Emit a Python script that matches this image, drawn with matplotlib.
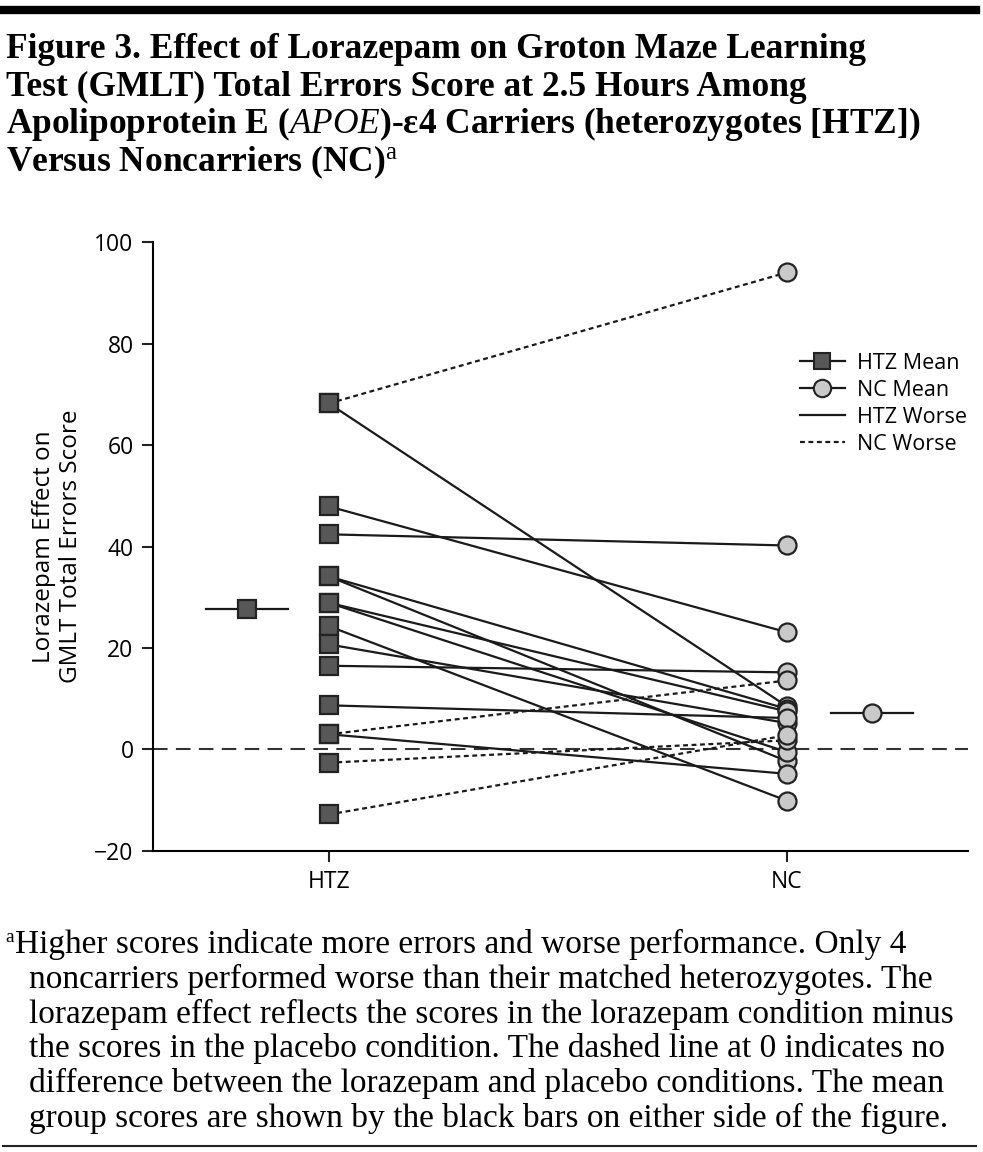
import matplotlib
matplotlib.use("Agg")
import matplotlib.pyplot as plt
from matplotlib.lines import Line2D

plt.rcParams['font.family'] = ['Open Sans', 'DejaVu Sans']
plt.rcParams['mathtext.fontset'] = 'custom'
plt.rcParams['mathtext.rm'] = 'Liberation Serif'
plt.rcParams['mathtext.it'] = 'Liberation Serif:italic'
plt.rcParams['mathtext.bf'] = 'Liberation Serif:bold'

# paired scores: each HTZ carrier with its matched noncarrier
htz_vals = [68.2, 68.2, 47.9, 42.4, 34.1, 34.1, 28.9, 28.9, 24.3, 20.7, 16.5, 8.7, 3.0, 3.0, -2.6, -12.8]
nc_vals = [94.0, 8.5, 23.1, 40.2, 8.0, -2.3, 7.5, -0.5, -10.1, 5.2, 15.2, 6.2, 13.6, -4.8, 1.8, 2.8]
htz_mean = 27.7
nc_mean = 7.2
groups = ["HTZ", "NC"]
yticks = [-20, 0, 20, 40, 60, 80, 100]

sq_face = "#575757"
ci_face = "#c9c9c9"
edge = "#222222"

fig = plt.figure(figsize=(9.83, 11.52), dpi=100)
ax = fig.add_axes([0.1556, 0.2613, 0.8291, 0.5286])

x_htz, x_nc = 1, 2
for h, n in zip(htz_vals, nc_vals):
    if n > h:
        ax.plot([x_htz, x_nc], [h, n], color="#1a1a1a", lw=1.6, ls=(0, (2.2, 1.6)), zorder=2)
    else:
        ax.plot([x_htz, x_nc], [h, n], color="#1a1a1a", lw=1.6, zorder=2)

ax.plot([x_htz] * len(htz_vals), htz_vals, ls="none", marker="s", ms=12.5,
        mfc=sq_face, mec=edge, mew=1.6, zorder=3)
ax.plot([x_nc] * len(nc_vals), nc_vals, ls="none", marker="o", ms=13,
        mfc=ci_face, mec=edge, mew=1.6, zorder=3)

# group means with bars
ax.plot([0.732, 0.911], [htz_mean, htz_mean], color="#1a1a1a", lw=1.6, zorder=2)
ax.plot([0.821], [htz_mean], marker="s", ms=12.5, mfc=sq_face, mec=edge, mew=1.6, zorder=3)
ax.plot([2.097, 2.276], [nc_mean, nc_mean], color="#1a1a1a", lw=1.6, zorder=2)
ax.plot([2.186], [nc_mean], marker="o", ms=13, mfc=ci_face, mec=edge, mew=1.6, zorder=3)

ax.axhline(0, color="#333333", lw=1.5, ls=(0, (7, 4)), zorder=1)

ax.set_xlim(0.616, 2.395)
ax.set_ylim(-20, 100)
ax.set_xticks([x_htz, x_nc])
ax.set_xticklabels(groups, fontsize=16.5)
ax.set_yticks(yticks)
ax.set_yticklabels(["\u221220"] + [str(t) for t in yticks[1:]], fontsize=16.5)
ax.spines['top'].set_visible(False)
ax.spines['right'].set_visible(False)
ax.spines['left'].set_linewidth(1.5)
ax.spines['bottom'].set_linewidth(1.5)
ax.tick_params(axis='both', direction='out', length=8, width=1.5, color="#222222", pad=6)
ax.set_ylabel("Lorazepam Effect on\nGMLT Total Errors Score", fontsize=17.5, labelpad=8,
              linespacing=1.15)

handles = [
    Line2D([], [], color="#1a1a1a", lw=1.6, marker="s", ms=12, mfc=sq_face, mec=edge, mew=1.5),
    Line2D([], [], color="#1a1a1a", lw=1.6, marker="o", ms=12.5, mfc=ci_face, mec=edge, mew=1.5),
    Line2D([], [], color="#1a1a1a", lw=1.6),
    Line2D([], [], color="#1a1a1a", lw=1.6, ls=(0, (2.2, 1.6))),
]
ax.legend(handles, ["HTZ Mean", "NC Mean", "HTZ Worse", "NC Worse"], loc="upper left",
          bbox_to_anchor=(0.77, 0.85), frameon=False, fontsize=15.5, handlelength=2.1,
          labelspacing=0.28, handletextpad=0.55)

# top rule and title
fig.add_artist(Line2D([0.003, 0.993], [0.9915, 0.9915], color="black", lw=6))
title_lines = [
    "Figure 3. Effect of Lorazepam on Groton Maze Learning",
    "Test (GMLT) Total Errors Score at 2.5 Hours Among",
    r"Apolipoprotein E ($\mathit{APOE}$)-ε4 Carriers (heterozygotes [HTZ])",
    r"Versus Noncarriers (NC)$^{\mathrm{a}}$",
]
for i, t in enumerate(title_lines):
    fig.text(0.006, 1 - (58 + 37.7 * i) / 1152, t, fontsize=25.5, family="Liberation Serif",
             weight="bold", va="baseline", ha="left")

foot_lines = [
    "Higher scores indicate more errors and worse performance. Only 4",
    "noncarriers performed worse than their matched heterozygotes. The",
    "lorazepam effect reflects the scores in the lorazepam condition minus",
    "the scores in the placebo condition. The dashed line at 0 indicates no",
    "difference between the lorazepam and placebo conditions. The mean",
    "group scores are shown by the black bars on either side of the figure.",
]
fig.text(0.005, 1 - 942 / 1152, "a", fontsize=14, family="Liberation Serif", va="baseline")
for i, t in enumerate(foot_lines):
    x0 = 0.015 if i == 0 else 0.03
    fig.text(x0, 1 - (953 + 34.8 * i) / 1152, t, fontsize=24, family="Liberation Serif",
             va="baseline", ha="left")
fig.add_artist(Line2D([0.003, 0.993], [1 - 1146 / 1152, 1 - 1146 / 1152], color="#222222", lw=1.5))

fig.savefig("out.png", dpi=100)
